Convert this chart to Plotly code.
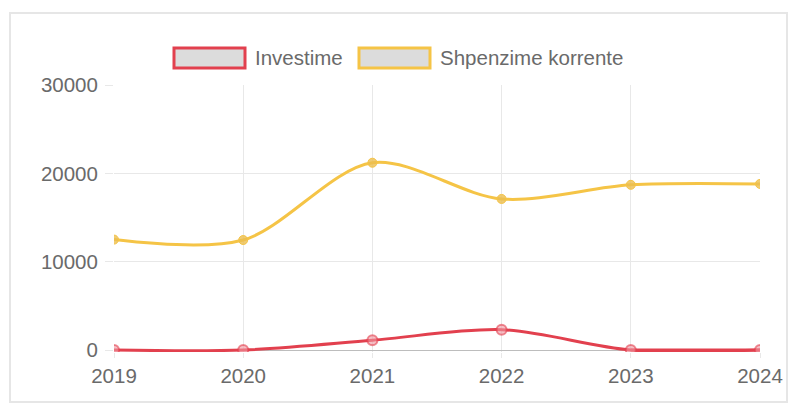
import plotly.graph_objects as go

years = ["2019", "2020", "2021", "2022", "2023", "2024"]
investime = [0, 0, 1100, 2300, 0, 0]
shpenzime = [12500, 12450, 21200, 17100, 18700, 18800]
y_ticks = [0, 10000, 20000, 30000]
series_names = ["Investime", "Shpenzime korrente"]

RED = "rgb(226,64,78)"
YEL = "rgb(245,196,70)"
FONT = "Liberation Sans, Arial, sans-serif"
TXT = "#6a6a6a"
FS = 20.5

fig = go.Figure()
fig.add_trace(go.Scatter(
    x=years, y=shpenzime, mode="lines+markers", name=series_names[1],
    line=dict(color=YEL, width=3, shape="spline", smoothing=0.9),
    marker=dict(size=9, color="rgba(235,190,80,0.8)", line=dict(color=YEL, width=1)),
))
# flat tail of the red series (Chart.js caps the curve to the chart area)
fig.add_trace(go.Scatter(
    x=years[4:], y=investime[4:], mode="lines", showlegend=False, hoverinfo="skip",
    line=dict(color=RED, width=3),
))
fig.add_trace(go.Scatter(
    x=years, y=investime, mode="lines+markers", name=series_names[0],
    line=dict(color=RED, width=3, shape="spline", smoothing=0.9),
    marker=dict(size=10, color="rgba(240,150,160,0.6)", line=dict(color="rgba(226,64,78,0.6)", width=2)),
))

# page is offset by 8px body margin; work in page coordinates then subtract
OFF = 8
W, H = 780, 395
PL, PR, PT, PB = 114, 760, 85, 352  # plot area in page coords (zero sits at 350)
Y0 = -30000 * (PB - 350) / (350 - PT)
L, R, T, B = PL - OFF, W - (PR - OFF), PT - OFF, H - (PB - OFF)
pw, ph = W - L - R, H - T - B

def px(x):
    return (x - OFF - L) / pw

def py(y):
    return (H - B - (y - OFF)) / ph

shapes = [
    dict(type="rect", xref="paper", yref="paper", x0=px(10), x1=px(787), y0=py(402), y1=py(13),
         line=dict(color="#e6e6e6", width=2), fillcolor="rgba(0,0,0,0)", layer="below"),
    dict(type="rect", xref="paper", yref="paper", x0=px(174), x1=px(245), y0=py(68), y1=py(48),
         line=dict(color=RED, width=3), fillcolor="#dcdcdc"),
    dict(type="rect", xref="paper", yref="paper", x0=px(359), x1=px(430), y0=py(68), y1=py(48),
         line=dict(color=YEL, width=3), fillcolor="#dcdcdc"),
]
annotations = [
    dict(text=series_names[0], xref="paper", yref="paper", x=px(253), y=py(58), xanchor="left",
         yanchor="middle", showarrow=False, font=dict(family=FONT, size=FS, color=TXT)),
    dict(text=series_names[1], xref="paper", yref="paper", x=px(438), y=py(58), xanchor="left",
         yanchor="middle", showarrow=False, font=dict(family=FONT, size=FS, color=TXT)),
]

fig.update_layout(
    width=W, height=H,
    margin=dict(l=L, r=R, t=T, b=B, autoexpand=False),
    paper_bgcolor="white", plot_bgcolor="white",
    showlegend=False,
    shapes=shapes, annotations=annotations,
    font=dict(family=FONT, size=FS, color=TXT),
    xaxis=dict(
        type="category", range=[0, 5], showgrid=True, gridcolor="#e8e8e8", gridwidth=1,
        ticks="outside", ticklen=5, tickcolor="#e8e8e8", zeroline=False, showline=False,
        tickfont=dict(family=FONT, size=FS, color=TXT), automargin=False,
    ),
    yaxis=dict(
        range=[Y0, 30000], tickvals=y_ticks, ticktext=[str(v) for v in y_ticks],
        showgrid=True, gridcolor="#e8e8e8", gridwidth=1, zeroline=True, zerolinecolor="#bdbdbd",
        zerolinewidth=1, ticks="outside", ticklen=8, tickcolor="#e8e8e8", showline=False,
        tickfont=dict(family=FONT, size=FS, color=TXT), ticklabelstandoff=3, automargin=False,
    ),
)

fig.write_html("out.html")
